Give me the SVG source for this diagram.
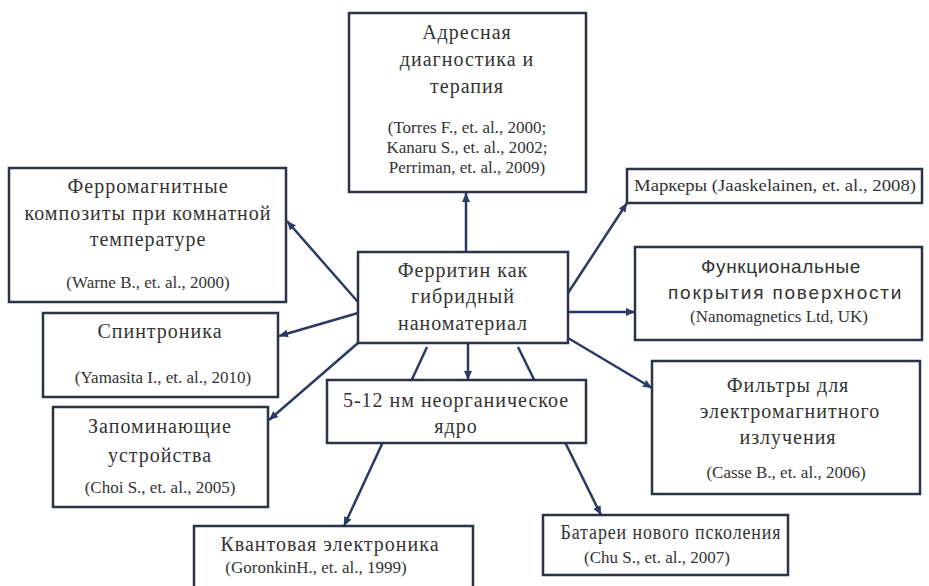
<svg xmlns="http://www.w3.org/2000/svg" width="929" height="586" viewBox="0 0 929 586">
<style>
.box{fill:#ffffff;stroke:#2c3348;stroke-width:2.5}
.t{font-family:"Liberation Serif","DejaVu Serif",serif;font-size:20px;fill:#333333;text-anchor:middle;letter-spacing:1px}
.s{font-family:"Liberation Sans","DejaVu Sans",sans-serif;font-size:19px;fill:#333333;text-anchor:middle;letter-spacing:0.6px}
.c{font-family:"Liberation Serif","DejaVu Serif",serif;font-size:17px;fill:#333333;text-anchor:middle}
.ln{stroke:#2a3a62;stroke-width:2.5;fill:none;marker-end:url(#ah)}
</style>
<defs>
<marker id="ah" markerUnits="userSpaceOnUse" markerWidth="9" markerHeight="8" refX="9" refY="4" orient="auto">
<path d="M0,0 L9,4 L0,8 z" fill="#2a3a62"/>
</marker>
</defs>
<rect width="929" height="586" fill="#ffffff"/>
<g id="connectors">
<line class="ln" x1="466" y1="252" x2="466" y2="193"/>
<line class="ln" x1="358" y1="302" x2="287" y2="221"/>
<line class="ln" x1="358" y1="313" x2="279" y2="336"/>
<line class="ln" x1="358" y1="343" x2="269" y2="420"/>
<line class="ln" x1="568" y1="293" x2="627" y2="203"/>
<line class="ln" x1="568" y1="312" x2="635" y2="312"/>
<line class="ln" x1="568" y1="338" x2="652" y2="388"/>
<line class="ln" x1="468" y1="343" x2="468" y2="380"/>
<line class="ln" x1="427" y1="347" x2="344" y2="526"/>
<line class="ln" x1="518" y1="347" x2="601" y2="515"/>
</g>
<g id="top">
<rect class="box" x="349" y="13" width="237" height="179"/>
<text class="t" x="467" y="39">Адресная</text>
<text class="t" x="467" y="66">диагностика и</text>
<text class="t" x="467" y="93">терапия</text>
<text class="c" x="467" y="133">(Torres F., et. al., 2000;</text>
<text class="c" x="467" y="153">Kanaru S., et. al., 2002;</text>
<text class="c" x="467" y="173">Perriman, et. al., 2009)</text>
</g>
<g id="ferro">
<rect class="box" x="9" y="168" width="277" height="134"/>
<text class="t" x="148" y="193">Ферромагнитные</text>
<text class="t" x="148" y="220" letter-spacing="1.3">композиты при комнатной</text>
<text class="t" x="148" y="246">температуре</text>
<text class="c" x="148" y="288">(Warne B., et. al., 2000)</text>
</g>
<g id="spin">
<rect class="box" x="43" y="313" width="235" height="84"/>
<text class="t" x="160" y="338">Спинтроника</text>
<text class="c" x="163" y="383">(Yamasita I., et. al., 2010)</text>
</g>
<g id="memory">
<rect class="box" x="53" y="407" width="215" height="100"/>
<text class="t" x="160" y="433">Запоминающие</text>
<text class="t" x="160" y="462">устройства</text>
<text class="c" x="160" y="493">(Choi S., et. al., 2005)</text>
</g>
<g id="center">
<rect class="box" x="358" y="252" width="210" height="91"/>
<text class="t" x="463" y="277">Ферритин как</text>
<text class="t" x="463" y="303">гибридный</text>
<text class="t" x="463" y="330" letter-spacing="2">наноматериал</text>
</g>
<g id="core">
<rect class="box" x="327" y="380" width="259" height="63"/>
<text class="t" x="456" y="407">5-12 нм неорганическое</text>
<text class="t" x="456" y="433">ядро</text>
</g>
<g id="markers">
<rect class="box" x="627" y="169" width="295" height="34"/>
<text class="c" x="775" y="191" font-size="15.5" textLength="282" lengthAdjust="spacingAndGlyphs">Маркеры (Jaaskelainen, et. al., 2008)</text>
</g>
<g id="functional">
<rect class="box" x="635" y="247" width="287" height="93"/>
<text class="s" x="781" y="273">Функциональные</text>
<text class="s" x="785" y="299" textLength="234" lengthAdjust="spacing">покрытия поверхности</text>
<text class="c" x="779" y="322">(Nanomagnetics Ltd, UK)</text>
</g>
<g id="filters">
<rect class="box" x="652" y="361" width="268" height="133"/>
<text class="t" x="788" y="392">Фильтры для</text>
<text class="t" x="790" y="418">электромагнитного</text>
<text class="t" x="788" y="444">излучения</text>
<text class="c" x="786" y="478">(Casse B., et. al., 2006)</text>
</g>
<g id="quantum">
<rect class="box" x="194" y="526" width="279" height="75"/>
<text class="t" x="330" y="551">Квантовая электроника</text>
<text class="c" x="316" y="573" font-size="15">(GoronkinH., et. al., 1999)</text>
</g>
<g id="batteries">
<rect class="box" x="543" y="515" width="245" height="60"/>
<text class="t" x="671" y="539" font-size="15.5" textLength="221" lengthAdjust="spacingAndGlyphs">Батареи нового псколения</text>
<text class="c" x="657" y="563" font-size="15.5">(Chu S., et. al., 2007)</text>
</g>
</svg>
